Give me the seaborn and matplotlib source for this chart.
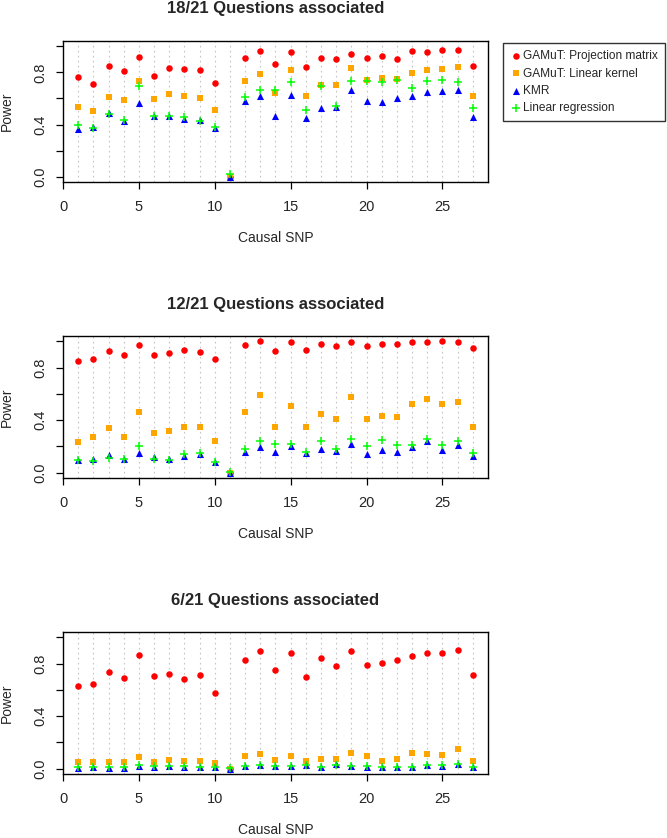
import pandas as pd
import matplotlib
matplotlib.use("Agg")
import matplotlib.pyplot as plt
import seaborn as sns

sns.set_style("white")
plt.rcParams['font.family'] = ['Liberation Sans', 'DejaVu Sans']

# causal SNP index
snp = list(range(1, 28))

# 18/21 questions associated
p1_proj = [0.762, 0.714, 0.846, 0.808, 0.915, 0.775, 0.836, 0.826, 0.818, 0.719, 0.0,
           0.910, 0.966, 0.867, 0.956, 0.844, 0.910, 0.905, 0.941, 0.913, 0.925, 0.900,
           0.961, 0.953, 0.969, 0.974, 0.846]
p1_lin = [0.535, 0.505, 0.612, 0.591, 0.732, 0.597, 0.632, 0.620, 0.604, 0.512, 0.0,
          0.732, 0.790, 0.643, 0.818, 0.617, 0.704, 0.704, 0.831, 0.742, 0.760, 0.747,
          0.793, 0.816, 0.826, 0.839, 0.617]
p1_kmr = [0.367, 0.385, 0.487, 0.431, 0.566, 0.467, 0.469, 0.441, 0.436, 0.375, 0.0,
          0.579, 0.622, 0.464, 0.630, 0.449, 0.525, 0.535, 0.663, 0.579, 0.569, 0.604,
          0.620, 0.650, 0.660, 0.665, 0.456]
p1_reg = [0.393, 0.372, 0.482, 0.436, 0.696, 0.464, 0.464, 0.456, 0.431, 0.380, 0.023,
          0.609, 0.665, 0.668, 0.727, 0.512, 0.699, 0.543, 0.734, 0.737, 0.724, 0.742,
          0.681, 0.734, 0.744, 0.724, 0.530]

# 12/21 questions associated
p2_proj = [0.851, 0.864, 0.928, 0.895, 0.974, 0.895, 0.912, 0.936, 0.920, 0.864, 0.0,
           0.972, 1.000, 0.925, 0.995, 0.933, 0.982, 0.964, 0.995, 0.964, 0.977, 0.977,
           0.995, 0.992, 1.000, 0.995, 0.951]
p2_lin = [0.235, 0.274, 0.338, 0.274, 0.462, 0.302, 0.315, 0.348, 0.348, 0.241, 0.0,
          0.462, 0.589, 0.348, 0.505, 0.348, 0.444, 0.408, 0.574, 0.405, 0.428, 0.425,
          0.521, 0.559, 0.521, 0.541, 0.348]
p2_kmr = [0.097, 0.105, 0.135, 0.107, 0.151, 0.120, 0.102, 0.130, 0.143, 0.082, 0.0,
          0.156, 0.197, 0.159, 0.202, 0.149, 0.177, 0.169, 0.218, 0.141, 0.174, 0.154,
          0.195, 0.238, 0.174, 0.210, 0.128]
p2_reg = [0.094, 0.089, 0.115, 0.107, 0.207, 0.107, 0.100, 0.141, 0.151, 0.082, 0.007,
          0.182, 0.238, 0.215, 0.220, 0.154, 0.243, 0.179, 0.259, 0.202, 0.246, 0.213,
          0.210, 0.254, 0.210, 0.243, 0.149]

# 6/21 questions associated
p3_proj = [0.629, 0.645, 0.739, 0.688, 0.864, 0.704, 0.721, 0.683, 0.716, 0.577, 0.0,
           0.828, 0.892, 0.752, 0.879, 0.701, 0.843, 0.785, 0.892, 0.792, 0.803, 0.828,
           0.861, 0.882, 0.882, 0.905, 0.716]
p3_lin = [0.048, 0.051, 0.048, 0.048, 0.086, 0.048, 0.069, 0.058, 0.056, 0.041, 0.0,
          0.094, 0.112, 0.066, 0.099, 0.061, 0.074, 0.074, 0.117, 0.094, 0.061, 0.071,
          0.117, 0.109, 0.104, 0.148, 0.056]
p3_kmr = [0.007, 0.012, 0.005, 0.007, 0.020, 0.015, 0.020, 0.015, 0.012, 0.012, 0.0,
          0.018, 0.028, 0.018, 0.018, 0.025, 0.012, 0.033, 0.018, 0.015, 0.012, 0.012,
          0.010, 0.028, 0.023, 0.033, 0.015]
p3_reg = [0.010, 0.015, 0.010, 0.012, 0.028, 0.018, 0.023, 0.018, 0.015, 0.015, 0.003,
          0.020, 0.030, 0.020, 0.020, 0.028, 0.015, 0.025, 0.020, 0.018, 0.015, 0.012,
          0.012, 0.030, 0.025, 0.035, 0.015]

titles = ["18/21 Questions associated", "12/21 Questions associated",
          "6/21 Questions associated"]
labels = ["GAMuT: Projection matrix", "GAMuT: Linear kernel", "KMR", "Linear regression"]
panels = [[p1_proj, p1_lin, p1_kmr, p1_reg],
          [p2_proj, p2_lin, p2_kmr, p2_reg],
          [p3_proj, p3_lin, p3_kmr, p3_reg]]

colors = ["#ff0000", "#ffa500", "#0000ff", "#00ff00"]
markers = ["o", "s", "^", "+"]
sizes = [22, 18, 26, 40]

W, H = 667, 838
fig = plt.figure(figsize=(W / 100, H / 100), dpi=100)

# axes boxes in pixels: left, top, right, bottom
boxes = [(63, 41, 488, 182), (63, 336, 488, 478), (63, 632, 488, 774)]

for (l, t, r, b), title, series in zip(boxes, titles, panels):
    ax = fig.add_axes([l / W, 1 - b / H, (r - l) / W, (b - t) / H])
    for x in snp:
        ax.axvline(x, color="#c4c4c4", lw=0.8, ls=(0, (1.5, 3)), zorder=0)
    for vals, lab, c, m, s in zip(series, labels, colors, markers, sizes):
        df = pd.DataFrame({"snp": snp, "power": vals})
        if m == "+":
            sns.scatterplot(data=df, x="snp", y="power", marker=m, color=c, s=s,
                            linewidth=1.1, ax=ax, label=lab, zorder=3)
        else:
            sns.scatterplot(data=df, x="snp", y="power", marker=m, color=c, s=s,
                            linewidth=0, ax=ax, label=lab, zorder=3)
    ax.set_xlim(0, 28)
    ax.set_ylim(-0.04, 1.04)
    ax.set_xticks([0, 5, 10, 15, 20, 25])
    ax.set_yticks([0, 0.2, 0.4, 0.6, 0.8, 1.0])
    ax.set_yticklabels(["0.0", "", "0.4", "", "0.8", ""], rotation=90, va="center")
    ax.tick_params(direction="out", length=5, width=0.9, labelsize=10.5, color="black",
                   bottom=True, left=True)
    ax.tick_params(axis="x", pad=8)
    ax.tick_params(axis="y", pad=6)
    for sp in ax.spines.values():
        sp.set_color("black")
        sp.set_linewidth(1.0)
    ax.set_xlabel("Causal SNP", fontsize=10)
    ax.set_ylabel("Power", fontsize=10)
    ax.xaxis.set_label_coords(0.5, -49 / (b - t))
    ax.yaxis.set_label_coords(-49 / (r - l), 0.5)
    ax.text(0.5, 1 + 32 / (b - t), title, transform=ax.transAxes, ha="center",
            va="center", fontsize=12, fontweight="bold")
    handles, hl = ax.get_legend_handles_labels()
    ax.get_legend().remove()

leg = fig.legend(handles, hl, loc="upper left", bbox_to_anchor=(503 / W, 1 - 43 / H),
                 frameon=True, fancybox=False, edgecolor="black", fontsize=8.6,
                 handletextpad=0.15, labelspacing=0.45, borderpad=0.6, handlelength=0.9,
                 borderaxespad=0)
leg.get_frame().set_linewidth(1.0)

fig.savefig("out.png", dpi=100)
